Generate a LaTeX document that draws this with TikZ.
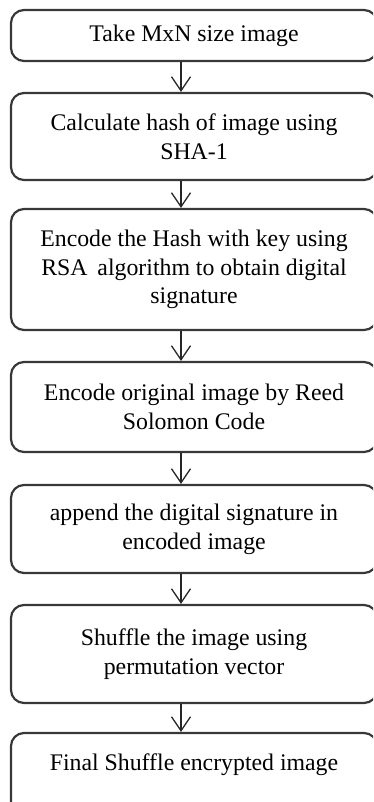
\documentclass[tikz,border=0pt]{standalone}
\usepackage{fontspec}
\setmainfont{Liberation Serif}
\usetikzlibrary{arrows.meta}
\begin{document}
\begin{tikzpicture}[x=1pt,y=-1pt,
  stepbox/.style={draw=black!78, line width=2.2pt, rounded corners=13pt,
    minimum width=366pt, align=center, inner sep=0pt,
    font=\fontsize{23.8}{28.8}\selectfont},
  arr/.style={draw=black!85, line width=1.3pt,
    -{Straight Barb[length=14pt,width=19pt,line width=1.3pt]}}]
\useasboundingbox (0,0) rectangle (373,802);
\clip (0,0) rectangle (373,802);
\node[stepbox, minimum height=51pt] (b1) at (194,35.5) {Take MxN size image};
\node[stepbox, minimum height=87pt] (b2) at (194,136.5) {Calculate hash of image using\\SHA-1};
\node[stepbox, minimum height=121pt] (b3) at (194,269.5) {Encode the Hash with key using\\RSA\, algorithm to obtain digital\\signature};
\node[stepbox, minimum height=90pt] (b4) at (194,407) {Encode original image by Reed\\Solomon Code};
\node[stepbox, minimum height=88pt] (b5) at (194,529) {append the digital signature in\\encoded image};
\node[stepbox, minimum height=98pt] (b6) at (194,654) {Shuffle the image using\\permutation vector};
\node[stepbox, minimum height=82pt, text height=16pt, text depth=24pt] (b7) at (194,774) {Final Shuffle encrypted image};
\foreach \a/\b in {b1/b2,b2/b3,b3/b4,b4/b5,b5/b6,b6/b7}
  \draw[arr] ([xshift=-13pt]\a.south) -- ([xshift=-13pt]\b.north);
\end{tikzpicture}
\end{document}
